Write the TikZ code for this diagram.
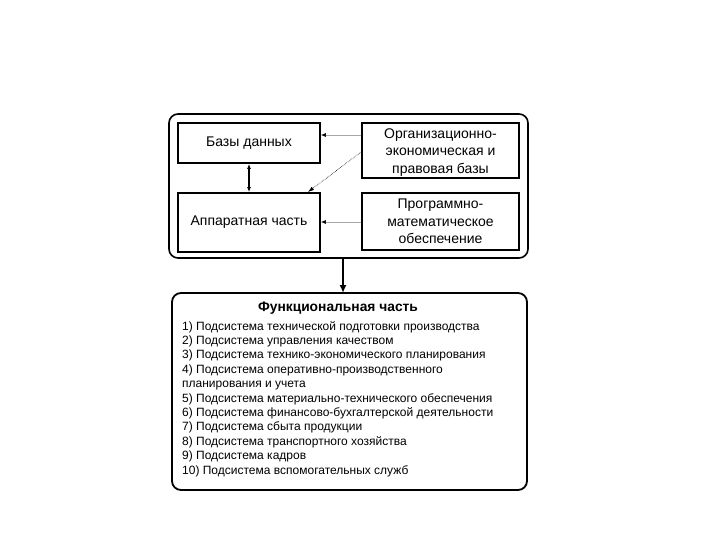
\documentclass[tikz,border=0pt]{standalone}
\usepackage{fontspec}
\setmainfont{Liberation Sans}
\usetikzlibrary{arrows.meta}
\begin{document}
\begin{tikzpicture}[x=1pt,y=-1pt,
  box/.style={draw=black,line width=1.8pt,inner sep=0pt},
  lbl/.style={font=\fontsize{14}{17.5}\selectfont,align=center},
  conn/.style={draw=gray!70,line width=0.6pt,-{Latex[length=5pt,width=4pt,black]}},
  items/.style={font=\fontsize{12}{14.4}\selectfont,align=left,anchor=north west,inner sep=0pt}]
\useasboundingbox (0,0) rectangle (720,540);
\draw[line width=1.6pt,rounded corners=9pt] (169,114) rectangle (528,258);
\node[box,minimum width=142pt,minimum height=40pt] (db) at (249,143) {};
\node[lbl] at (db) {Базы данных};
\node[box,minimum width=142pt,minimum height=59pt] (hw) at (249,222.5) {};
\node[lbl] at (hw) {Аппаратная часть};
\node[box,minimum width=157pt,minimum height=55pt] (org) at (440.5,150.5) {};
\node[lbl] at (440.5,152.5) {Организационно-\\экономическая и\\правовая базы};
\node[box,minimum width=157pt,minimum height=57pt] (prog) at (440.5,221.5) {};
\node[lbl] at (440.5,221.5) {Программно-\\математическое\\обеспечение};
\draw[conn] (org.west |- 0,135) -- (db.east |- 0,135);
\draw[conn] (prog.west |- 0,222) -- (hw.east |- 0,222);
\draw[line width=0.6pt,densely dotted,-{Latex[length=6pt,width=4pt]}] (org.west |- 0,152) -- (308,192);
\draw[line width=1.1pt,{Latex[length=5pt,width=4pt]}-{Latex[length=5pt,width=4pt]}] (db.south) -- (hw.north);
\draw[line width=1.8pt,rounded corners=9pt] (172,293) rectangle (527,490);
\coordinate (outb) at (343,258);
\coordinate (funt) at (343,293);
\draw[line width=1.6pt,-{Latex[length=8pt,width=7pt]}] (outb) -- (funt);
\node[font=\bfseries\fontsize{13.8}{16}\selectfont] (ft) at (338,308) {Функциональная часть};
\node[items] (list) at (182,321) {1) Подсистема технической подготовки производства\\
2) Подсистема управления качеством\\
3) Подсистема технико-экономического планирования\\
4) Подсистема оперативно-производственного\\
планирования и учета\\
5) Подсистема материально-технического обеспечения\\
6) Подсистема финансово-бухгалтерской деятельности\\
7) Подсистема сбыта продукции\\
8) Подсистема транспортного хозяйства\\
9) Подсистема кадров\\
10) Подсистема вспомогательных служб};
\end{tikzpicture}
\end{document}
